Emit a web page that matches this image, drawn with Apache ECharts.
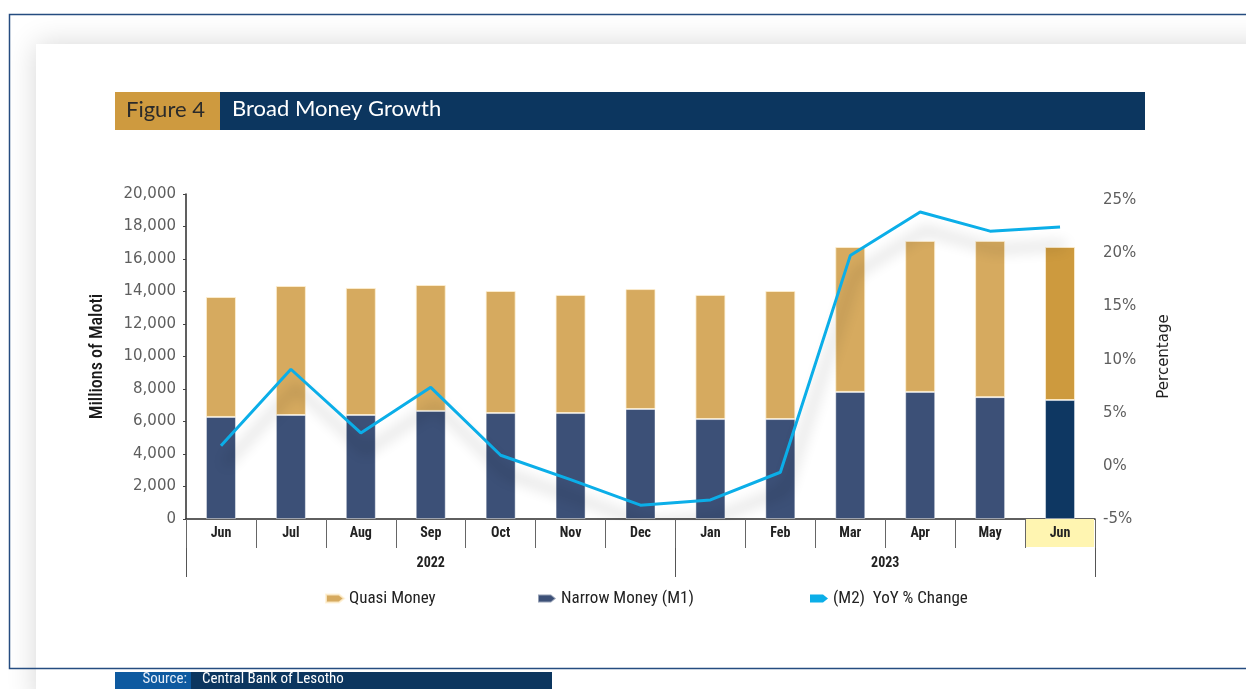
<!DOCTYPE html>
<html>
<head>
<meta charset="utf-8">
<script src="https://cdn.jsdelivr.net/npm/echarts@6/dist/echarts.min.js"></script>
<style>
  html, body { margin: 0; padding: 0; background: #fff; }
  #chart { width: 1246px; height: 689px; }
</style>
</head>
<body>
<div id="chart"></div>
<script>
// months on the axis, Jun 2022 .. Jun 2023
const months = ['Jun', 'Jul', 'Aug', 'Sep', 'Oct', 'Nov', 'Dec', 'Jan', 'Feb', 'Mar', 'Apr', 'May', 'Jun'];
const yearLabels = ['2022', '2023'];
const yearSpans = [7, 6];

// millions of maloti
const narrowMoney = [6280, 6400, 6400, 6650, 6520, 6520, 6770, 6150, 6150, 7820, 7820, 7500, 7320];
const quasiMoney = [7380, 7940, 7820, 7750, 7510, 7270, 7380, 7640, 7880, 8920, 9290, 9610, 9420];
// M2 year-on-year % change
const m2YoY = [1.9, 9.1, 3.1, 7.4, 1.0, -1.3, -3.7, -3.2, -0.6, 19.8, 23.9, 22.1, 22.5];

const leftTicks = { min: 0, max: 20000, interval: 2000 };
const rightTicks = { min: -5, max: 25.6, interval: 5 };

// year boundaries and centres on a 0..13 value scale
const yearEdges = [0];
const yearCentres = [];
yearSpans.forEach(function (s) {
  const start = yearEdges[yearEdges.length - 1];
  yearCentres.push(start + s / 2);
  yearEdges.push(start + s);
});

const last = months.length - 1;
const quasiCol = '#D6AA5F', quasiHi = '#CD9A3E';
const m1Col = '#3C5077', m1Hi = '#0E3762';
const lineCol = '#0BAEE8';
const condensed = '"Roboto Condensed", "DejaVu Sans Condensed", Roboto, sans-serif';
const verdana = '"DejaVu Sans", Verdana, sans-serif';
const pencil = 'path://M0,0 L13,0 L18,4 L13,8 L0,8 Z';

const chart = echarts.init(document.getElementById('chart'));
chart.setOption({
  animation: false,
  graphic: [
    { type: 'rect', z: -10, shape: { x: 36, y: 44, width: 1260, height: 660 },
      style: { fill: '#fff', shadowBlur: 28, shadowColor: 'rgba(0,0,0,0.16)' } },
    { type: 'rect', z: -9, shape: { x: 9.5, y: 14.5, width: 1300, height: 654 },
      style: { fill: 'transparent', stroke: '#254C80', lineWidth: 1.5 } },
    { type: 'rect', z: 1, shape: { x: 115, y: 92, width: 105, height: 38 }, style: { fill: '#CE9A3F' } },
    { type: 'rect', z: 1, shape: { x: 220, y: 92, width: 925, height: 38 }, style: { fill: '#0C365F' } },
    { type: 'text', z: 2, left: 126, top: 99,
      style: { text: 'Figure 4', fill: '#2a2a2a', font: '22px Lato, sans-serif' } },
    { type: 'text', z: 2, left: 232, top: 98,
      style: { text: 'Broad Money Growth', fill: '#fff', font: '22px Lato, sans-serif' } },
    { type: 'rect', z: 1, shape: { x: 115, y: 672, width: 76, height: 17 }, style: { fill: '#0E5AA0' } },
    { type: 'rect', z: 1, shape: { x: 191, y: 672, width: 361, height: 17 }, style: { fill: '#0C365F' } },
    { type: 'text', z: 2, right: 1246 - 187, top: 672,
      style: { text: 'Source:', fill: '#e6eef8', font: '15px ' + condensed } },
    { type: 'text', z: 2, left: 202, top: 672,
      style: { text: 'Central Bank of Lesotho', fill: '#fff', font: '15px ' + condensed } }
  ],
  grid: [
    { left: 186, right: 151, top: 194, bottom: 170 },
    { left: 186, right: 151, top: 519, height: 29 }
  ],
  legend: [
    { left: 320, top: 585, itemWidth: 18, itemHeight: 8, data: [{ name: 'Quasi Money', icon: pencil }],
      textStyle: { fontFamily: condensed, fontSize: 17, color: '#222' } },
    { left: 532, top: 585, itemWidth: 18, itemHeight: 8, data: [{ name: 'Narrow Money (M1)', icon: pencil }],
      textStyle: { fontFamily: condensed, fontSize: 17, color: '#222' } },
    { left: 805, top: 585, itemWidth: 18, itemHeight: 8, data: [{ name: '(M2)  YoY % Change', icon: pencil }],
      textStyle: { fontFamily: condensed, fontSize: 17, color: '#222' } }
  ],
  xAxis: [
    {
      type: 'category', data: months, position: 'bottom', gridIndex: 0,
      axisLine: { show: true, lineStyle: { color: '#2b2b2b', width: 1.5 } },
      axisTick: { show: true, interval: 0, length: 29, lineStyle: { color: '#666' } },
      axisLabel: {
        interval: 0, margin: 0,
        formatter: function (v, i) { return i === last ? '{hl|' + v + '}' : '{n|' + v + '}'; },
        rich: {
          n: { fontFamily: condensed, fontWeight: 'bold', fontSize: 14, color: '#222', height: 28, lineHeight: 28, width: 68, align: 'center' },
          hl: { fontFamily: condensed, fontWeight: 'bold', fontSize: 14, color: '#222', height: 28, lineHeight: 28, width: 68, align: 'center', backgroundColor: '#FFF5B1' }
        }
      }
    },
    {
      type: 'value', position: 'bottom', gridIndex: 1, min: 0, max: months.length,
      axisLine: { show: false },
      splitLine: { show: false },
      axisTick: { show: true, customValues: yearEdges, length: 29, lineStyle: { color: '#555' } },
      axisLabel: {
        show: true, customValues: yearCentres, margin: 8,
        formatter: function (v) { return yearLabels[yearCentres.indexOf(v)] || ''; },
        fontFamily: condensed, fontWeight: 'bold', fontSize: 14, color: '#222'
      }
    }
  ],
  yAxis: [
    {
      type: 'value', gridIndex: 0, min: leftTicks.min, max: leftTicks.max, interval: leftTicks.interval,
      name: 'Millions of Maloti', nameLocation: 'middle', nameGap: 80,
      nameTextStyle: { fontFamily: condensed, fontSize: 18, fontWeight: 500, color: '#1a1a1a' },
      axisLine: { show: true, lineStyle: { color: '#2b2b2b', width: 1.5 } },
      axisTick: { show: true, length: 3, lineStyle: { color: '#444' } },
      splitLine: { show: false },
      axisLabel: { margin: 10, fontFamily: verdana, fontSize: 15, color: '#5e5e5e',
        formatter: function (v) { return v.toLocaleString('en-US'); } }
    },
    {
      type: 'value', gridIndex: 0, min: rightTicks.min, max: rightTicks.max, interval: rightTicks.interval,
      name: 'Percentage', nameLocation: 'middle', nameGap: 62,
      nameTextStyle: { fontFamily: verdana, fontSize: 15, color: '#222' },
      axisLine: { show: false }, axisTick: { show: false }, splitLine: { show: false },
      axisLabel: { margin: 8, fontFamily: verdana, fontSize: 15, color: '#5e5e5e',
        showMaxLabel: false, formatter: '{value}%' }
    },
    {
      type: 'value', gridIndex: 1, show: false
    }
  ],
  series: [
    {
      name: 'Narrow Money (M1)', type: 'bar', stack: 'm2', barWidth: 30,
      itemStyle: { color: m1Col, borderColor: 'rgba(255,255,255,0.45)', borderWidth: 1 },
      data: narrowMoney.map(function (v, i) {
        return i === last ? { value: v, itemStyle: { color: m1Hi } } : v;
      })
    },
    {
      name: 'Quasi Money', type: 'bar', stack: 'm2', barWidth: 30,
      itemStyle: { color: quasiCol, borderColor: 'rgba(255,240,210,0.8)', borderWidth: 1 },
      data: quasiMoney.map(function (v, i) {
        return i === last ? { value: v, itemStyle: { color: quasiHi } } : v;
      })
    },
    {
      name: '(M2)  YoY % Change', type: 'line', yAxisIndex: 1, z: 5,
      symbol: 'none', data: m2YoY,
      itemStyle: { color: lineCol },
      lineStyle: { color: lineCol, width: 3, shadowColor: 'rgba(0,0,0,0.32)', shadowBlur: 14, shadowOffsetX: 5, shadowOffsetY: 18 }
    }
  ]
});
</script>
</body>
</html>
